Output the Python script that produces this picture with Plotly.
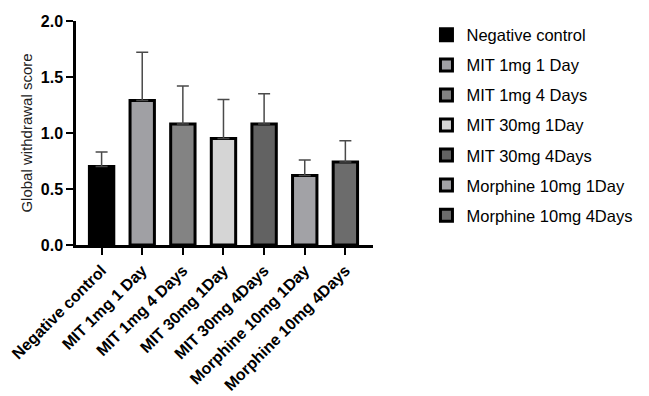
import plotly.graph_objects as go

categories = ["Negative control", "MIT 1mg 1 Day", "MIT 1mg 4 Days", "MIT 30mg 1Day",
              "MIT 30mg 4Days", "Morphine 10mg 1Day", "Morphine 10mg 4Days"]
means = [0.70, 1.29, 1.08, 0.95, 1.08, 0.62, 0.74]
errors = [0.13, 0.43, 0.34, 0.35, 0.27, 0.14, 0.19]
colors = ["#000000", "#a0a0a4", "#838383", "#d5d5d5", "#626262", "#a2a2a6", "#6c6c6c"]

fig = go.Figure()
for i, cat in enumerate(categories):
    fig.add_trace(go.Bar(
        x=[cat], y=[means[i]], name=cat, legendgroup=cat,
        marker=dict(color=colors[i], line=dict(color="black", width=3)),
        width=0.6,
        error_y=dict(type="data", array=[errors[i]], arrayminus=[0], symmetric=False,
                     color="#4a4a4a", thickness=1.5, width=6),
    ))

fig.update_layout(
    width=649, height=396,
    margin=dict(l=76, r=259, t=21, b=151),
    plot_bgcolor="white", paper_bgcolor="white",
    barmode="overlay",
    font=dict(family="Liberation Sans, Arial, sans-serif", color="black"),
    showlegend=True,
    legend=dict(x=1.18, y=1.015, xanchor="left", yanchor="top",
                font=dict(size=16.5, color="black"), tracegroupgap=5.6,
                maxheight=390,
                bgcolor="rgba(0,0,0,0)"),
)
fig.update_xaxes(
    type="category", categoryorder="array", categoryarray=categories,
    range=[-0.63, 6.68], automargin=False,
    showline=True, linecolor="black", linewidth=2.5,
    ticks="outside", ticklen=7, tickwidth=2, tickcolor="black",
    tickangle=-45, tickfont=dict(size=16, family="Liberation Sans, Arial, sans-serif", weight="bold"),
    showgrid=False, zeroline=False,
)
fig.update_yaxes(
    range=[0, 2], tickvals=[0, 0.5, 1.0, 1.5, 2.0], ticktext=["0.0", "0.5", "1.0", "1.5", "2.0"],
    automargin=False,
    showline=True, linecolor="black", linewidth=2.5,
    ticks="outside", ticklen=7, tickwidth=2, tickcolor="black",
    tickfont=dict(size=16, weight="bold"),
    title=dict(text="Global withdrawal score", font=dict(size=15, color="#222"), standoff=5),
    showgrid=False, zeroline=False,
)

fig.write_html("out.html")
